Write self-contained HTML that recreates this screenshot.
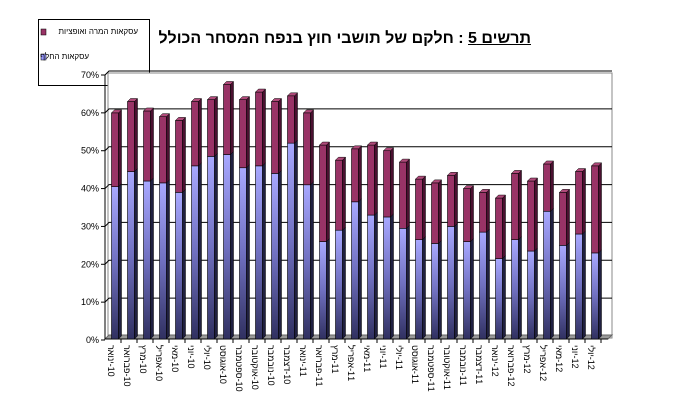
<!DOCTYPE html>
<html><head><meta charset="utf-8"><style>
body{margin:0;background:#fff;width:676px;height:419px;overflow:hidden;font-family:"Liberation Sans","Noto Sans CJK SC",sans-serif;position:relative}
svg text{font-family:"Liberation Sans","Noto Sans CJK SC",sans-serif}
#title{position:absolute;right:145px;top:30px;font-size:16px;font-weight:bold;direction:rtl;white-space:nowrap}
#title u{text-decoration:underline}
.lg{position:absolute;font-size:8px;direction:rtl;white-space:nowrap}
</style></head><body>
<svg width="676" height="419" style="position:absolute;left:0;top:0">
<defs>
<linearGradient id="bl" x1="0" y1="0" x2="0" y2="1">
<stop offset="0" stop-color="#a8a8ff"/><stop offset="0.5" stop-color="#7070c0"/><stop offset="1" stop-color="#303060"/>
</linearGradient>
</defs>
<g id="legend">
<rect x="38.5" y="19.5" width="111" height="66" fill="#fff" stroke="#000"/>
<rect x="41" y="29" width="5" height="6" fill="#993366" stroke="#000" stroke-width="0.5"/>
<rect x="41" y="54" width="5" height="6" fill="#9999ff" stroke="#000" stroke-width="0.5"/>
</g>
<g id="axes"></g>
<g id="bars"></g>
</svg>
<div class="lg" style="left:47px;top:27px;width:91px;text-align:right">עסקאות המרה ואופציות</div>
<div class="lg" style="left:47px;top:52px;width:42px;text-align:right">עסקאות החלף</div>
<div id="title"><u>תרשים 5</u> : חלקם של תושבי חוץ בנפח המסחר הכולל</div>
<script>
const categories=["ינואר-10","פברואר-10","מרץ-10","אפריל-10","מאי-10","יוני-10","יולי-10","אוגוסט-10","ספטמבר-10","אוקטובר-10","נובמבר-10","דצמבר-10","ינואר-11","פברואר-11","מרץ-11","אפריל-11","מאי-11","יוני-11","יולי-11","אוגוסט-11","ספטמבר-11","אוקטובר-11","נובמבר-11","דצמבר-11","ינואר-12","פברואר-12","מרץ-12","אפריל-12","מאי-12","יוני-12","יולי-12"];
const swapValues=[40.5,44.5,42,41.5,39,46,48.5,49,45.5,46,44,52,41,26,29,36.5,33,32.5,29.5,26.5,25.5,30,26,28.5,21.5,26.5,23.5,34,25,28,23];
const optionValues=[19.5,18.5,18.5,17.5,19,17,15,18.5,18,19.5,19,12.5,19,25.5,18.5,14,18.5,17.5,17.5,16,16,13.5,14,10.5,16,17.5,18.5,12.5,14,16.5,23];
const tickLabels=["0%","10%","20%","30%","40%","50%","60%","70%"];
const NS="http://www.w3.org/2000/svg";
const axes=document.getElementById('axes'),bars=document.getElementById('bars');
const x0=110,x1=612,yBase=338,yTop=73,maxV=70,dx=3,dy=3;
function y(v){return yBase-(v/maxV)*(yBase-yTop);}
const step=(x1-x0-6)/categories.length;
function xc(i){return x0+step*(i+0.5);}
function mk(tag,attrs,parent){const e=document.createElementNS(NS,tag);for(const k in attrs)e.setAttribute(k,attrs[k]);parent.appendChild(e);return e;}
let w=mk('rect',{x:x0-2,y:yTop,width:x1-x0+2,height:yBase-yTop,fill:'#fff',stroke:'#888'},axes);


let f=mk('polygon',{points:`${x0-5},${yBase+1} ${x1-4},${yBase+1} ${x1},${yBase-3} ${x0-1},${yBase-3}`,fill:'#999',stroke:'#666'},axes);


tickLabels.forEach((t,i)=>{
  const v=i*10,yy=y(v);
  if(i>0){let g=mk('polyline',{points:`${x0-5},${yy+2} ${x0-1},${yy-2} ${x1},${yy-2}`,fill:'none',stroke:'#000'},axes);
  
  }
  mk('line',{x1:x0-9,y1:yy+2,x2:x0-5,y2:yy+2,stroke:'#000'},axes);
  let tx=mk('text',{x:x0-11,y:yy+5,'font-size':9,'text-anchor':'end'},axes);
  tx.textContent=t;
  
  
});
mk('line',{x1:x0-5,y1:y(70)+2,x2:x0-5,y2:yBase+1,stroke:'#000'},axes);
mk('line',{x1:x0-5,y1:yBase+1,x2:x1-4,y2:yBase+1,stroke:'#000'},axes);
const bw=7;
categories.forEach((c,i)=>{
  const cx=xc(i)-3, l=cx-bw/2;
  const yb=y(swapValues[i])+2, yt=y(swapValues[i]+optionValues[i])+2;
  let r1=mk('rect',{x:l,y:yb,width:bw,height:yBase+1-yb,fill:'url(#bl)',stroke:'#000','stroke-width':0.6},bars);
  
  
  mk('polygon',{points:`${l+bw},${yb} ${l+bw+dx},${yb-dy} ${l+bw+dx},${yBase+1-dy} ${l+bw},${yBase+1}`,fill:'#202040',stroke:'#000','stroke-width':0.5},bars);
  let r2=mk('rect',{x:l,y:yt,width:bw,height:yb-yt,fill:'#993366',stroke:'#000','stroke-width':0.6},bars);
  
  
  mk('polygon',{points:`${l+bw},${yt} ${l+bw+dx},${yt-dy} ${l+bw+dx},${yb-dy} ${l+bw},${yb}`,fill:'#4a1030',stroke:'#000','stroke-width':0.5},bars);
  mk('polygon',{points:`${l},${yt} ${l+dx},${yt-dy} ${l+bw+dx},${yt-dy} ${l+bw},${yt}`,fill:'#b04a7a',stroke:'#000','stroke-width':0.5},bars);
  const tx0=x0-5+step*(i+1);
  mk('line',{x1:tx0,y1:yBase+1,x2:tx0,y2:yBase+5,stroke:'#000'},axes);
  let t=mk('text',{x:0,y:0,'font-size':9,'text-anchor':'start',transform:`translate(${cx-7},${yBase+7}) rotate(90)`},axes);
  t.textContent=c.replace('-','\u200E-');
  
  
});
</script>
</body></html>
